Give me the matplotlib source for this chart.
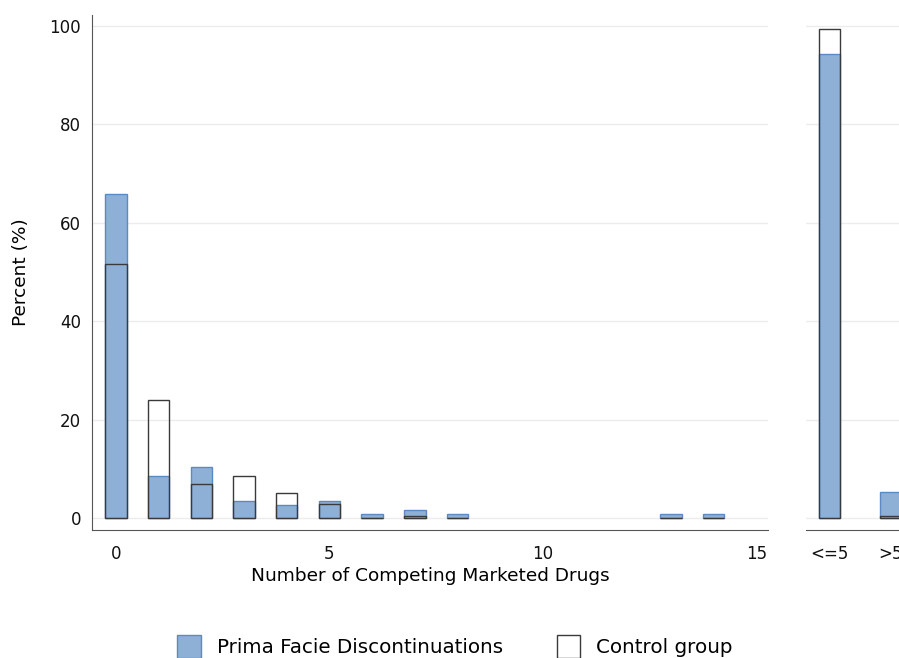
import numpy as np
import matplotlib
matplotlib.use("Agg")
import matplotlib.pyplot as plt
from matplotlib.patches import Patch

# share of drugs by number of competing marketed drugs
counts = [0, 1, 2, 3, 4, 5, 6, 7, 8, 13, 14]
prima_facie = [65.9, 8.6, 10.3, 3.4, 2.6, 3.4, 0.9, 1.7, 0.9, 0.9, 0.9]
control = [51.7, 24.1, 6.9, 8.6, 5.1, 2.9, 0.0, 0.5, 0.0, 0.0, 0.0]
groups = ["<=5", ">5"]

pf = np.array(prima_facie)
ct = np.array(control)
n = np.array(counts)
pf_grouped = [pf[n <= 5].sum(), pf[n > 5].sum()]
ct_grouped = [ct[n <= 5].sum(), ct[n > 5].sum()]

blue_fill = "#8fb0d6"
blue_edge = "#5a8ac6"
ctrl_edge = "#3a3a3a"
grid_col = "#ececec"
spine_col = "#555555"

plt.rcParams["font.family"] = "DejaVu Sans"

fig = plt.figure(figsize=(8.99, 6.58), dpi=100)
ax = fig.add_axes([92/899, 128/658, 676/899, 515/658])
ax2 = fig.add_axes([806/899, 128/658, 108/899, 515/658])

ax.bar(counts, prima_facie, width=0.5, color=blue_fill, edgecolor=blue_edge, linewidth=1, zorder=2)
ax.bar(counts, control, width=0.5, fill=False, edgecolor=ctrl_edge, linewidth=1, zorder=3)

x2 = np.arange(len(groups))
ax2.bar(x2, pf_grouped, width=0.345, color=blue_fill, edgecolor=blue_edge, linewidth=1, zorder=2)
ax2.bar(x2, ct_grouped, width=0.345, fill=False, edgecolor=ctrl_edge, linewidth=1, zorder=3)

for a in (ax, ax2):
    a.set_ylim(-2.4, 102.2)
    a.set_yticks([0, 20, 40, 60, 80, 100])
    a.yaxis.grid(True, color=grid_col, linewidth=1)
    a.set_axisbelow(True)
    a.spines["top"].set_visible(False)
    a.spines["right"].set_visible(False)
    a.spines["bottom"].set_color(spine_col)
    a.spines["left"].set_color(spine_col)
    a.tick_params(length=0, labelsize=12, colors="#111111", pad=11)

ax.set_xlim(-0.56, 15.27)
ax.set_xticks([0, 5, 10, 15])
ax.set_xlabel("Number of Competing Marketed Drugs", fontsize=13.3, labelpad=3)
ax.set_ylabel("Percent (%)", fontsize=13.3, labelpad=14)
ax.tick_params(axis="y", pad=8)

ax2.set_xlim(-0.385, 1.385)
ax2.set_xticks(x2)
ax2.set_xticklabels(groups)
ax2.spines["left"].set_visible(False)
ax2.set_yticklabels([])

handles = [Patch(facecolor=blue_fill, edgecolor=blue_edge, label="Prima Facie Discontinuations"),
           Patch(facecolor="white", edgecolor=ctrl_edge, label="Control group")]
fig.legend(handles=handles, loc="center", bbox_to_anchor=(0.506, 0.017), ncol=2, frameon=False,
           fontsize=14.3, handlelength=1.2, handleheight=1.4, handletextpad=0.8, columnspacing=2.7)

fig.savefig("out.png", dpi=100)
